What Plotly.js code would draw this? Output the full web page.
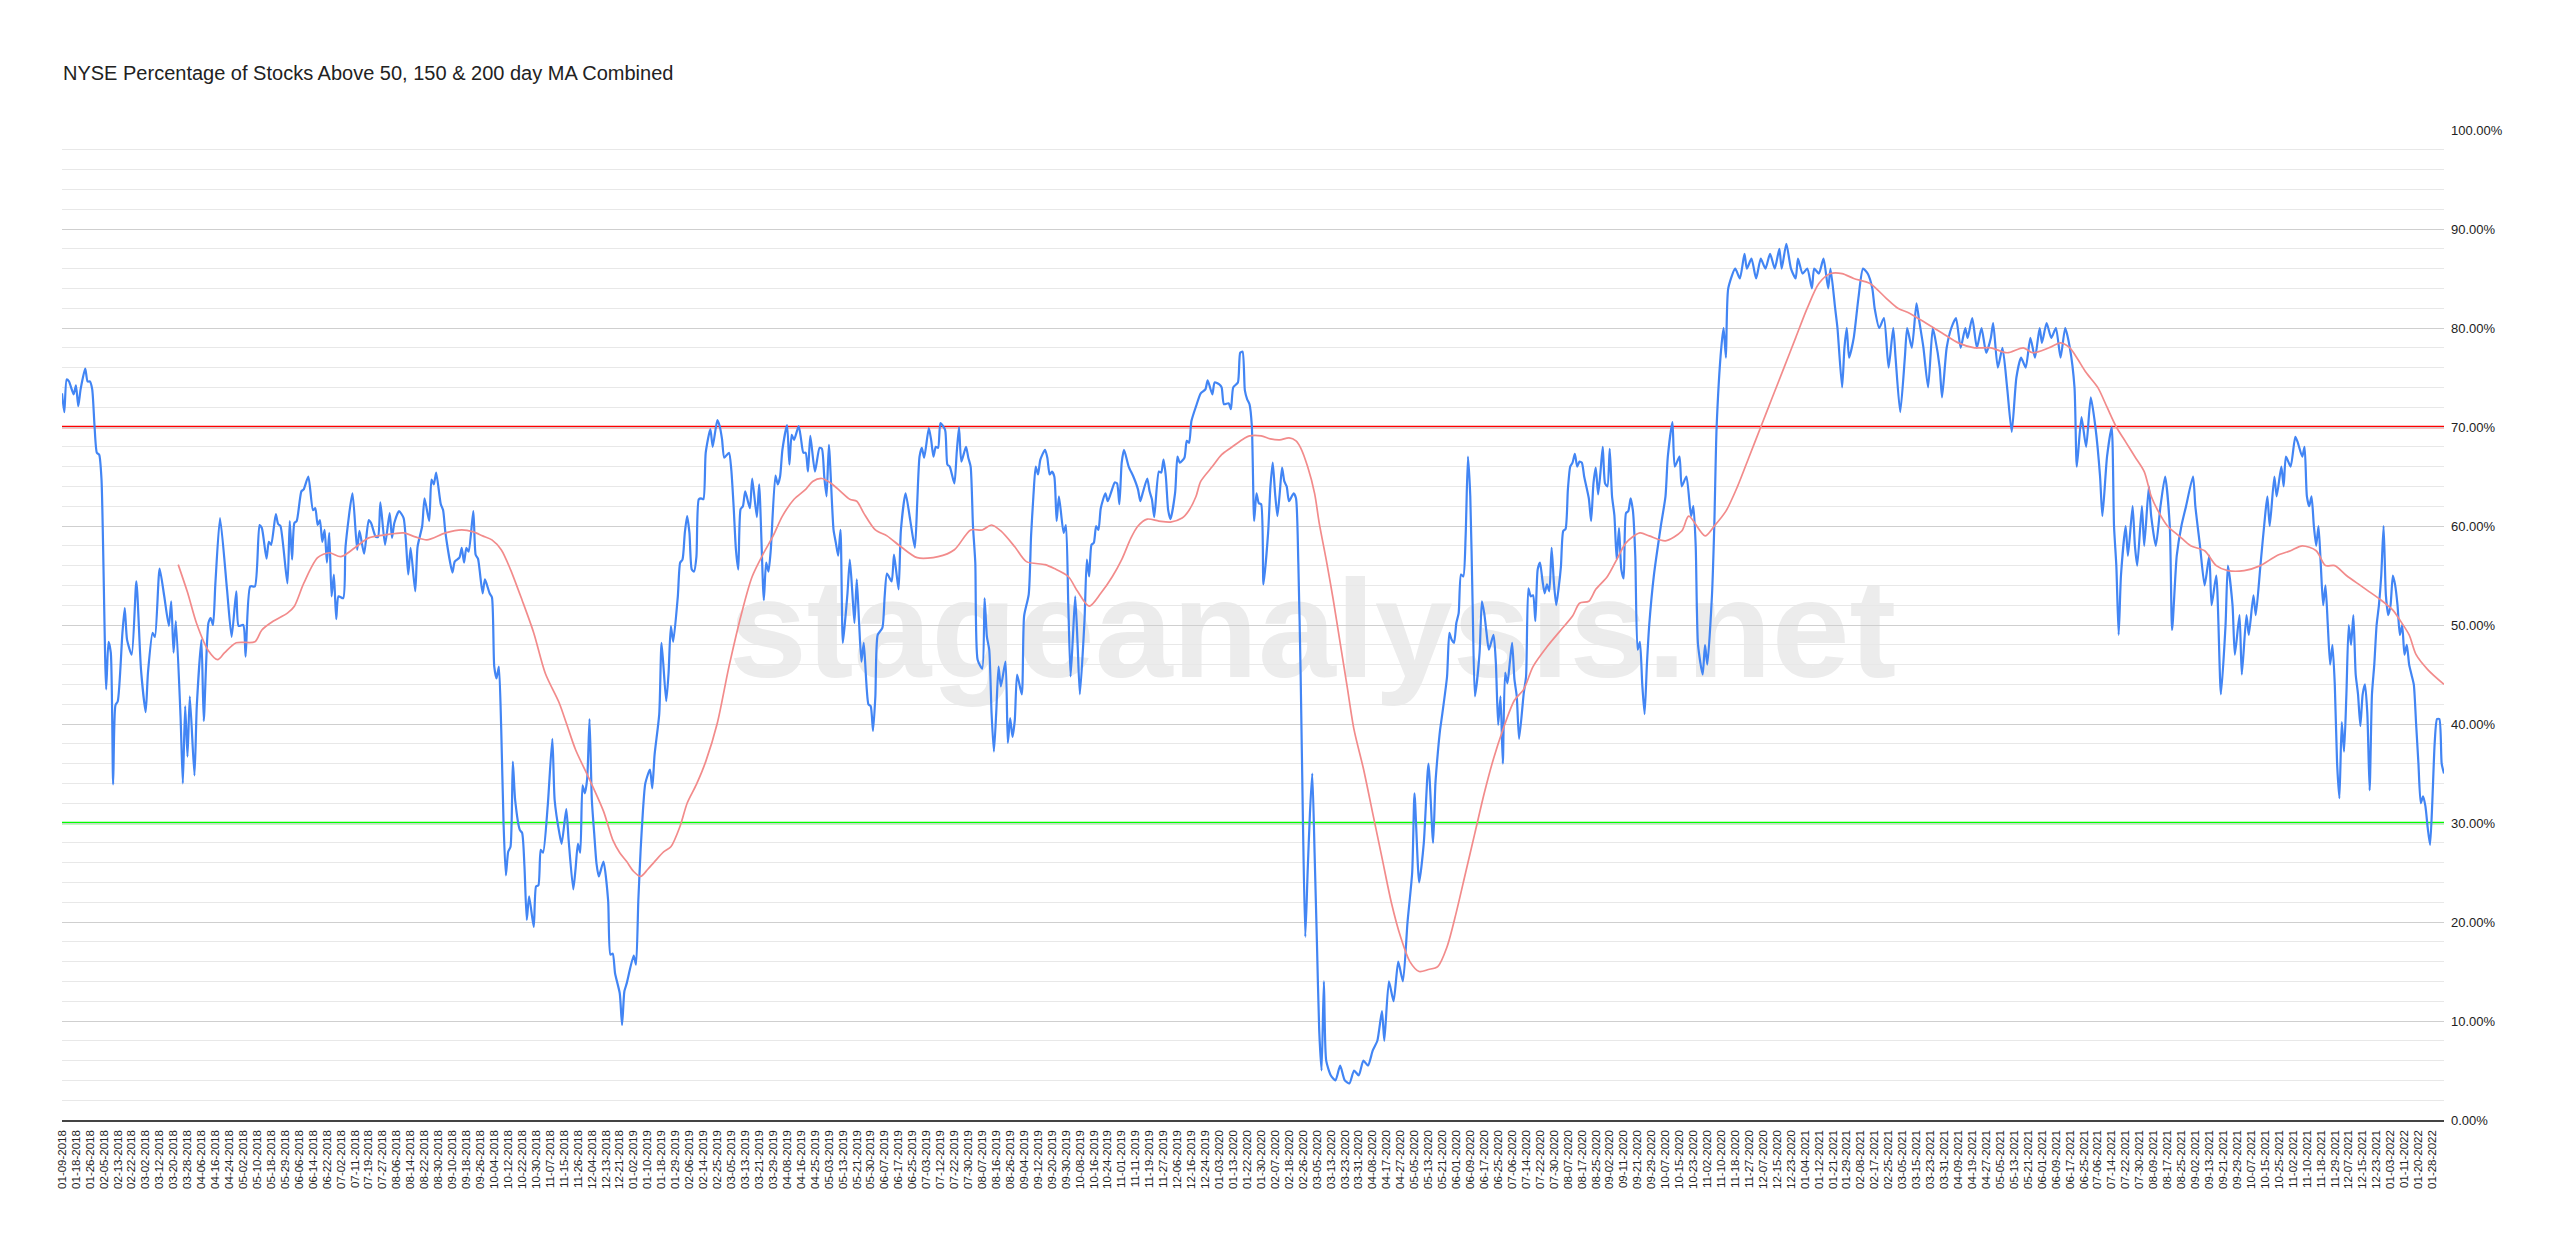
<!DOCTYPE html>
<html>
<head>
<meta charset="utf-8">
<script src="https://cdn.plot.ly/plotly-3.0.1.min.js"></script>
<style>
html,body{margin:0;padding:0;background:#ffffff;}
#chart{width:2560px;height:1250px;}
</style>
</head>
<body>
<div id="chart"></div>
<script>
// ---------- DATA ----------
const chartTitle = 'NYSE Percentage of Stocks Above 50, 150 & 200 day MA Combined';
const watermarkText = 'stageanalysis.net';
const upperBand = 70;
const lowerBand = 30;
const tickStep = 6; // a date label every 6 trading days

const tickDates = [
"01-09-2018","01-18-2018","01-26-2018","02-05-2018","02-13-2018","02-22-2018","03-02-2018","03-12-2018","03-20-2018","03-28-2018",
"04-06-2018","04-16-2018","04-24-2018","05-02-2018","05-10-2018","05-18-2018","05-29-2018","06-06-2018","06-14-2018","06-22-2018",
"07-02-2018","07-11-2018","07-19-2018","07-27-2018","08-06-2018","08-14-2018","08-22-2018","08-30-2018","09-10-2018","09-18-2018",
"09-26-2018","10-04-2018","10-12-2018","10-22-2018","10-30-2018","11-07-2018","11-15-2018","11-26-2018","12-04-2018","12-13-2018",
"12-21-2018",
"01-02-2019","01-10-2019","01-18-2019","01-29-2019","02-06-2019","02-14-2019","02-25-2019","03-05-2019","03-13-2019","03-21-2019",
"03-29-2019","04-08-2019","04-16-2019","04-25-2019","05-03-2019","05-13-2019","05-21-2019","05-30-2019","06-07-2019","06-17-2019",
"06-25-2019","07-03-2019","07-12-2019","07-22-2019","07-30-2019","08-07-2019","08-16-2019","08-26-2019","09-04-2019","09-12-2019",
"09-20-2019","09-30-2019","10-08-2019","10-16-2019","10-24-2019","11-01-2019","11-11-2019","11-19-2019","11-27-2019","12-06-2019",
"12-16-2019","12-24-2019",
"01-03-2020","01-13-2020","01-22-2020","01-30-2020","02-07-2020","02-18-2020","02-26-2020","03-05-2020","03-13-2020","03-23-2020",
"03-31-2020","04-08-2020","04-17-2020","04-27-2020","05-05-2020","05-13-2020","05-21-2020","06-01-2020","06-09-2020","06-17-2020",
"06-25-2020","07-06-2020","07-14-2020","07-22-2020","07-30-2020","08-07-2020","08-17-2020","08-25-2020","09-02-2020","09-11-2020",
"09-21-2020","09-29-2020","10-07-2020","10-15-2020","10-23-2020","11-02-2020","11-10-2020","11-18-2020","11-27-2020","12-07-2020",
"12-15-2020","12-23-2020",
"01-04-2021","01-12-2021","01-21-2021","01-29-2021","02-08-2021","02-17-2021","02-25-2021","03-05-2021","03-15-2021","03-23-2021",
"03-31-2021","04-09-2021","04-19-2021","04-27-2021","05-05-2021","05-13-2021","05-21-2021","06-01-2021","06-09-2021","06-17-2021",
"06-25-2021","07-06-2021","07-14-2021","07-22-2021","07-30-2021","08-09-2021","08-17-2021","08-25-2021","09-02-2021","09-13-2021",
"09-21-2021","09-29-2021","10-07-2021","10-15-2021","10-25-2021","11-02-2021","11-10-2021","11-18-2021","11-29-2021","12-07-2021",
"12-15-2021","12-23-2021",
"01-03-2022","01-11-2022","01-20-2022","01-28-2022"
];

// trading-day number (0 = 01-09-2018) of each reading
const blueDay = [
0,1,2,3,5,6,7,8,10,11,
12,13,14,15,16,17,19,20,21,22,
23,24,26,27,28,30,32,34,36,37,
39,40,42,44,46,47,48,49,51,52,
53,54,55,57,58,60,61,63,64,65,
66,68,71,73,75,76,78,79,81,83,
85,86,88,89,90,92,93,94,97,98,
99,100,101,103,104,106,108,109,110,111,
112,113,114,115,116,117,118,119,121,122,
125,127,128,130,132,133,135,136,137,139,
141,142,143,145,147,149,150,152,153,155,
156,158,159,160,161,163,164,165,168,169,
171,172,173,174,175,177,178,179,181,182,
184,185,186,187,188,189,190,191,192,193,
194,195,197,198,199,200,201,203,204,205,
206,207,209,211,212,214,215,217,218,220,
221,222,223,224,225,226,227,228,229,230,
231,233,235,236,237,238,240,241,242,243,
246,247,248,249,250,251,253,254,255,257,
258,260,261,262,263,265,266,267,268,269,
270,271,272,273,274,275,276,277,279,280,
282,283,284,285,287,288,289,290,291,292,
293,294,296,297,299,300,302,303,304,305,
307,308,309,310,312,313,314,315,317,318,
319,320,321,322,324,326,327,328,329,330,
332,333,334,335,336,337,338,339,340,341,
342,343,344,345,347,348,349,350,351,353,
354,355,357,358,359,360,361,363,365,367,
368,369,370,371,373,374,375,376,377,378,
380,381,382,384,385,386,387,389,390,391,
392,393,394,396,397,398,399,400,401,402,
403,404,406,407,408,409,410,411,413,414,
416,417,418,419,420,421,423,424,425,426,
427,428,429,431,432,433,434,435,436,437,
438,440,441,442,443,444,445,446,447,449,
450,452,453,454,455,456,457,459,461,463,
464,465,467,468,469,470,472,473,474,475,
476,477,479,480,481,483,484,485,486,488,
490,492,493,495,496,498,499,500,502,503,
504,506,507,508,509,510,511,512,513,514,
515,516,517,519,520,521,522,523,524,525,
526,527,528,530,531,532,533,534,535,536,
537,538,539,540,541,542,543,544,546,548,
550,552,554,556,558,560,562,564,566,568,
569,571,573,575,577,579,581,582,584,586,
588,590,591,592,593,594,596,597,598,599,
600,601,602,603,604,605,606,607,608,610,
611,612,613,614,616,617,618,619,620,621,
622,623,624,625,626,627,629,630,631,632,
633,634,635,636,637,638,639,640,641,642,
643,644,645,646,647,648,649,650,651,652,
653,654,655,657,658,659,660,661,662,663,
664,665,666,667,668,669,670,671,672,673,
674,675,676,677,678,679,680,681,682,683,
685,688,690,691,693,694,696,697,699,701,
702,703,704,706,707,708,710,711,712,714,
715,716,717,720,722,724,725,727,729,731,
733,735,737,739,740,742,744,746,747,749,
751,753,754,756,758,760,761,763,764,766,
767,768,769,771,773,775,777,779,780,782,
784,786,788,789,791,793,794,796,798,799,
801,803,805,806,808,809,811,813,815,817,
819,820,822,824,826,828,830,831,833,835,
837,839,841,843,845,847,849,851,852,854,
856,858,860,862,864,866,867,869,871,873,
875,877,878,880,882,883,884,885,886,888,
889,891,892,893,895,896,898,899,901,903,
905,907,908,910,912,914,917,918,920,922,
924,925,927,929,931,932,934,935,937,938,
940,941,943,944,946,948,949,950,952,953,
955,956,957,959,961,962,964,965,966,967,
968,969,970,971,972,973,974,975,976,977,
978,979,980,981,982,983,984,985,986,987,
988,989,990,991,992,993,994,995,996,997,
998,999,1000,1001,1002,1003,1004,1005,1006,1007,
1008,1009,1010,1011,1012,1013,1014,1015,1016,1017,
1018,1019,1020,1021,1022,1023,1024,1025
];

// % of NYSE stocks above their 50, 150 & 200 day MAs (combined)
const bluePct = [
73.4,71.5,74.8,74.6,73.3,74.2,72.1,73.8,75.9,74.6,
74.6,73.8,70.1,67.4,67.2,64.7,43.5,48.3,47.2,33.9,
41.9,42.3,49.2,51.7,48.5,47.0,54.4,45.5,41.2,45.2,
49.2,48.8,55.7,52.9,49.9,52.4,47.2,50.4,40.8,34.0,
41.8,36.7,42.8,34.8,41.8,48.5,40.3,50.2,50.7,50.0,
54.2,60.8,53.6,48.8,53.4,49.9,50.0,46.8,53.9,53.9,
60.1,59.8,56.7,58.4,58.1,61.2,60.2,60.0,54.2,60.5,
56.6,60.3,60.5,63.5,63.7,65.0,61.6,61.8,60.1,60.6,
58.4,59.6,56.3,59.3,52.9,55.1,50.6,52.9,52.7,57.9,
63.3,57.6,59.5,57.2,60.6,60.3,58.9,58.9,62.4,58.1,
61.3,58.8,60.3,61.5,60.8,55.1,57.8,53.4,57.9,60.0,
62.8,60.5,64.7,64.2,65.4,62.2,61.6,59.3,55.3,56.4,
56.8,57.8,56.3,57.8,57.4,61.5,57.1,56.7,53.2,54.6,
53.2,52.8,45.8,44.6,45.8,39.5,30.0,24.7,27.1,27.6,
36.2,32.3,29.3,29.0,25.6,20.2,22.6,19.5,23.6,23.7,
27.3,27.0,31.7,38.5,32.3,29.0,27.9,31.4,28.3,23.3,
25.4,27.9,27.0,33.8,33.0,34.5,40.5,32.3,29.0,25.9,
24.6,26.1,22.2,16.7,16.8,14.8,12.8,9.6,13.0,13.8,
16.6,15.7,22.2,27.3,31.3,34.0,35.4,33.5,36.9,41.0,
48.2,42.3,45.1,49.9,48.3,52.9,56.3,56.6,59.3,61.0,
59.3,55.6,55.4,56.9,62.7,62.8,62.7,67.4,69.8,68.0,
70.7,70.1,68.8,66.9,67.4,65.7,62.0,57.6,55.6,61.7,
62.0,63.5,61.8,64.8,60.9,64.2,52.5,56.3,55.4,57.6,
65.1,64.2,65.0,67.7,70.2,66.2,69.2,68.7,70.1,68.8,
67.4,67.4,65.5,69.1,65.5,67.9,67.8,65.0,63.0,68.2,
59.6,58.3,57.0,59.6,48.2,50.5,53.2,56.6,53.6,50.2,
54.6,50.2,46.3,48.2,42.0,41.8,39.3,42.8,49.0,49.7,
52.9,55.2,54.4,57.1,55.4,53.6,59.6,63.3,60.6,57.8,
62.3,67.0,67.9,66.9,69.9,68.7,67.0,68.0,67.9,70.4,
69.7,66.2,66.0,64.3,67.4,70.0,66.5,68.0,66.9,66.0,
60.0,56.3,46.5,45.6,52.7,48.8,47.5,41.1,37.2,41.1,
45.8,43.8,46.3,38.1,40.6,38.7,40.4,45.0,43.0,50.9,
53.1,59.0,63.0,66.0,65.2,66.7,67.7,66.9,65.2,65.5,
65.0,60.5,63.0,59.3,60.1,52.2,44.8,48.8,52.9,48.2,
43.0,50.5,56.6,54.9,58.1,58.3,60.0,59.6,61.8,63.3,
62.5,63.8,64.4,64.3,62.2,66.4,67.7,66.0,65.0,63.7,
62.5,63.3,64.8,63.5,62.7,60.9,65.5,65.4,66.7,65.0,
61.6,60.7,63.4,67.0,66.4,66.9,68.6,68.4,70.6,72.1,
73.4,73.8,74.7,73.3,74.5,74.3,74.0,72.3,72.4,71.8,
74.0,74.5,77.5,77.6,73.7,72.8,72.3,70.1,60.5,63.3,
62.3,62.2,54.1,59.3,64.0,66.4,63.3,61.0,63.3,65.9,
64.5,64.0,62.5,63.3,62.8,56.3,45.0,30.0,18.5,25.0,
31.0,35.0,27.0,18.0,9.0,5.0,14.0,6.0,4.5,4.0,
5.5,4.0,3.7,5.0,4.5,6.0,5.5,7.0,8.0,11.0,
8.0,14.0,12.0,16.0,14.0,20.0,25.0,33.0,24.0,28.0,
36.0,28.0,34.0,37.0,39.4,41.1,44.8,49.2,48.5,48.2,
50.2,51.2,55.1,54.9,59.0,67.0,63.0,52.2,42.8,47.2,
52.4,51.2,49.2,47.5,49.0,46.2,39.9,42.8,36.0,45.2,
44.1,46.2,48.2,44.5,42.8,38.5,43.1,44.8,53.7,52.9,
53.0,50.4,55.6,56.3,54.6,53.2,54.1,53.4,57.8,54.2,
52.0,53.7,55.9,59.5,59.7,63.7,66.0,66.4,67.3,66.0,
66.5,66.4,65.0,62.8,60.5,64.3,65.9,63.2,65.4,68.0,
64.3,64.0,67.8,63.0,61.1,56.6,59.8,55.6,54.7,61.3,
61.5,62.8,61.5,57.0,47.5,48.3,44.0,41.0,46.0,50.0,
55,60,63,67,70.5,66,67,64,65,61,
62,58,48,45,48,46,53,60,70,78,
80,77,84,86,85,87.5,86,87,85,87,
86,87.5,86,88,86,88.5,86,85,87,85.5,
86,84,86,85.5,87,84,86,82,80,74,
78,80,77,79,83,86,85.5,84,82,80,
81,76,80,77,71.5,77,80,78,82.5,81,
78,74,80,79,76,73,78,80,81,78,
80,79,81,78,80,77.5,79,80.5,76,78,
74,69.5,75,77,76,79,77,80,78.5,80.5,
79,80,77,80,78,74,66,71,68,73,
70,65,61,67,70,60,56,49,55,60,
57,62,58,56,62,58,64,61,58,62,
65,60,49.5,57,60,62,65,62,58,54,
57,52,55,43,50,56,52,47,51,45,
51,49,53,51,56,61,63,60,65,63,
66,64,67,66,69,68.5,67,68,63,62,
63,60,58,60,56,52,54,50,46,48,
44,36,32.5,40.2,37.2,43,50,48,51,45,
43,39.8,43,44,41.1,33.3,43,46,50,52,
55,60,53,51,52,55,54,52,49,50,
47,48,46,45,44,40,36,32,32.7,31.7,
29.5,27.8,32.3,38.1,40.5,40.5,36,35
];

// 50-day moving average of the combined reading
const maDay = [
50,54,58,63,67,70,75,83,86,91,
97,100,104,110,115,120,126,132,139,147,
152,157,165,172,177,181,185,189,193,198,
203,208,214,217,221,227,233,237,240,243,
246,249,252,255,259,262,266,269,273,277,
282,287,293,297,302,306,310,315,320,323,
327,331,335,339,342,345,350,355,361,368,
377,384,391,396,400,404,410,415,423,427,
433,437,442,447,452,456,460,463,467,472,
477,482,485,488,490,495,499,503,509,511,
516,520,524,528,531,533,536,539,541,544,
547,550,553,556,560,564,568,572,576,580,
584,588,592,596,600,604,608,612,616,620,
625,629,633,639,645,650,653,657,660,665,
669,673,679,683,690,697,700,707,711,716,
721,726,731,736,741,746,751,756,761,766,
771,778,785,790,795,802,809,816,823,830,
837,844,848,855,860,864,867,871,876,880,
884,888,892,896,899,902,906,911,916,922,
927,932,939,946,953,959,964,970,974,978,
983,989,992,998,1003,1006,1010,1013,1018,1025
];
const maPct = [
56.1,53.3,50.1,47.4,46.5,47.2,48.2,48.3,49.5,50.4,
51.2,51.9,54.2,56.8,57.3,56.9,57.8,58.8,59.1,59.3,
58.9,58.6,59.3,59.6,59.4,59.0,58.6,57.6,55.6,52.5,
49.2,45.1,42.1,40.1,37.4,34.4,31.2,28.3,27.0,26.1,
25.1,24.6,25.3,26.1,27.1,27.6,29.7,32.0,33.9,36.2,
40.1,45.8,51.7,54.9,57.3,59.0,61.0,62.7,63.7,64.5,
64.8,64.3,63.5,62.7,62.5,61.3,59.6,59.0,57.9,56.8,
56.9,57.6,59.6,59.6,60.1,59.5,57.9,56.4,56.1,55.7,
54.9,53.4,51.9,53.2,54.9,56.6,58.8,60.0,60.7,60.5,
60.4,60.8,61.6,63.0,64.5,66.0,67.2,67.9,68.9,69.1,
69.1,68.8,68.7,68.9,68.6,67.9,66.0,63.3,60.3,56.6,
52.6,48.2,43.8,39.4,35.5,31.0,26.5,22.0,18.5,16.0,
15.0,15.2,15.5,17.5,21.0,25.0,29.0,33.0,36.5,39.4,
42.4,43.5,45.8,47.8,49.5,50.9,52.2,52.4,53.6,54.9,
56.6,58.3,59.3,59.0,58.5,59.5,61.0,59.0,60.0,61.5,
64.0,67.0,70.0,73.0,76.0,79.0,82.0,84.5,85.5,85.5,
85.0,84.5,83.0,82.0,81.5,80.5,79.5,78.5,78.0,78.0,
77.5,78.0,77.5,78.0,78.5,78.0,77.0,75.5,74.0,72.0,
70.0,68.5,67.0,65.5,63.0,61.5,60.0,59.0,58.0,57.5,
56.0,55.5,55.5,56.0,57.0,57.5,58.0,57.5,56.0,56.0,
55.0,54.0,53.5,52.5,51.5,50.5,49.0,47.0,45.5,44.0
];

// ---------- CHART ----------
const lastDay = blueDay[blueDay.length - 1];
const tickVals = tickDates.map((d, i) => i * tickStep);

const traces = [
  {
    x: blueDay, y: bluePct, type: 'scatter', mode: 'lines',
    line: {color: '#4285f4', width: 2.2, shape: 'spline', smoothing: 0.6},
    hoverinfo: 'skip', name: 'Combined'
  },
  {
    x: maDay, y: maPct, type: 'scatter', mode: 'lines',
    line: {color: '#f28b8b', width: 1.7, shape: 'spline', smoothing: 0.8},
    hoverinfo: 'skip', name: '50 day MA'
  }
];

const layout = {
  width: 2560, height: 1250,
  margin: {l: 62, r: 116, t: 130, b: 130, pad: 0},
  paper_bgcolor: '#ffffff', plot_bgcolor: '#ffffff',
  font: {family: 'Liberation Sans, Arial, sans-serif', color: '#222222'},
  showlegend: false,
  hovermode: false,
  title: {
    text: chartTitle,
    x: 63 / 2560, xanchor: 'left', xref: 'container',
    y: 1 - 73 / 1250, yanchor: 'middle', yref: 'container',
    font: {family: 'Liberation Sans, Arial, sans-serif', size: 20, color: '#222222'}
  },
  xaxis: {
    type: 'linear', range: [0, lastDay],
    tickmode: 'array', tickvals: tickVals, ticktext: tickDates,
    tickangle: -90, ticks: '', ticklabelstandoff: 4,
    tickfont: {size: 11.5, color: '#222222'},
    showgrid: false, zeroline: false,
    showline: true, linecolor: '#444444', linewidth: 1.5,
    fixedrange: true
  },
  yaxis: {
    side: 'right', range: [0, 100], tick0: 0, dtick: 10,
    tickformat: '.2f', ticksuffix: '%',
    ticks: '', ticklabelstandoff: 6,
    tickfont: {size: 13, color: '#222222'},
    showgrid: true, gridcolor: '#cfcfcf', gridwidth: 1,
    minor: {dtick: 2, showgrid: true, gridcolor: '#e8e8e8', gridwidth: 1},
    zeroline: false, showline: false, fixedrange: true
  },
  shapes: [
    {
      type: 'rect', xref: 'paper', yref: 'paper', x0: 0.27, x1: 0.78, y0: 0.41, y1: 0.61,
      line: {width: 0}, fillcolor: 'rgba(0,0,0,0)', layer: 'below',
      label: {text: watermarkText, textposition: 'middle center',
              font: {family: 'Liberation Sans, Arial, sans-serif', size: 140, color: '#ececec', weight: 'bold'}}
    },
    {type: 'line', xref: 'paper', yref: 'y', x0: 0, x1: 1, y0: upperBand, y1: upperBand,
     line: {color: '#ff0000', width: 2.6}, layer: 'between'},
    {type: 'line', xref: 'paper', yref: 'y', x0: 0, x1: 1, y0: lowerBand, y1: lowerBand,
     line: {color: '#00ff00', width: 2.6}, layer: 'between'}
  ]
};

Plotly.newPlot('chart', traces, layout, {staticPlot: true, displayModeBar: false});
</script>
</body>
</html>
